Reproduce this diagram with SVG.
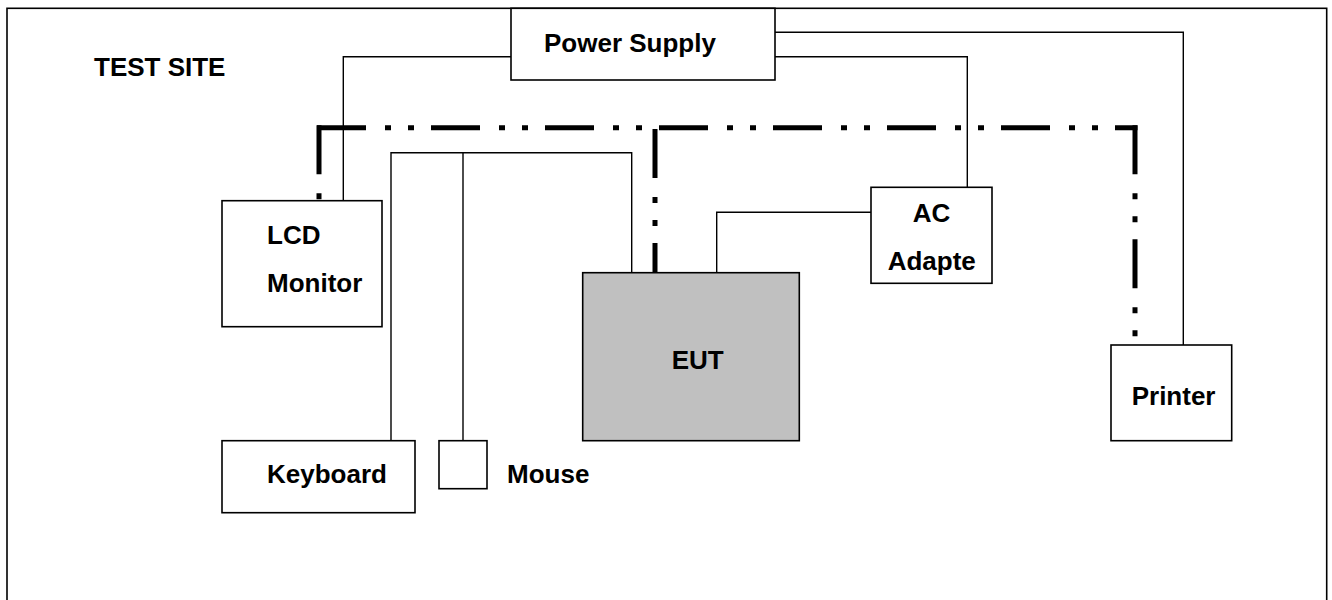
<svg xmlns="http://www.w3.org/2000/svg" width="1332" height="600" viewBox="0 0 1332 600">
<style>
.box{fill:#fff;stroke:#000;stroke-width:1.6}
.eut{fill:#c0c0c0;stroke:#000;stroke-width:1.6}
.lbl{font-family:"Liberation Sans",Arial,sans-serif;font-weight:bold;font-size:26px;fill:#000}
.wire{fill:none;stroke:#000;stroke-width:1.4}
.dd{fill:none;stroke:#000;stroke-width:5;stroke-dasharray:49 19 6 17 6 17}
</style>
<rect x="0" y="0" width="1332" height="600" fill="#fff"/>
<g id="site">
<rect x="7" y="8.3" width="1319.7" height="620" fill="none" stroke="#000" stroke-width="1.6"/>
<text class="lbl" x="94" y="76">TEST SITE</text>
</g>
<g id="connectors">
<path class="wire" d="M511 56.7 H343.3 V200.7"/>
<path class="wire" d="M775 32.3 H1183.3 V345"/>
<path class="wire" d="M775 56.7 H967.3 V187.3"/>
<path class="wire" d="M391 440.7 V152.7 H631.7 V272.7"/>
<path class="wire" d="M463 152.7 V440.7"/>
<path class="wire" d="M716.7 272.7 V212.3 H871"/>
<path class="dd" d="M317 127.7 H1137.5"/>
<path class="dd" d="M319 125.2 V200.7"/>
<path class="dd" d="M655 129 V272.7"/>
<path class="dd" d="M1135 125.2 V345"/>
</g>
<g id="power-supply">
<rect class="box" x="511" y="8.3" width="264" height="71.7"/>
<text class="lbl" x="544" y="52">Power Supply</text>
</g>
<g id="lcd-monitor">
<rect class="box" x="222" y="200.7" width="160" height="126"/>
<text class="lbl" x="267" y="244">LCD</text>
<text class="lbl" x="267" y="291.7">Monitor</text>
</g>
<g id="eut">
<rect class="eut" x="582.7" y="272.7" width="216.6" height="168"/>
<text class="lbl" x="671.7" y="369.3">EUT</text>
</g>
<g id="ac-adapter">
<rect class="box" x="871" y="187.3" width="121" height="96"/>
<text class="lbl" x="912.7" y="222.3">AC</text>
<text class="lbl" x="887.7" y="270">Adapte</text>
</g>
<g id="printer">
<rect class="box" x="1111" y="345" width="120.7" height="95.7"/>
<text class="lbl" x="1131.7" y="405">Printer</text>
</g>
<g id="keyboard">
<rect class="box" x="222" y="440.7" width="193" height="72"/>
<text class="lbl" x="267" y="483">Keyboard</text>
</g>
<g id="mouse">
<rect class="box" x="439" y="440.7" width="48" height="48"/>
<text class="lbl" x="507" y="483">Mouse</text>
</g>
</svg>
